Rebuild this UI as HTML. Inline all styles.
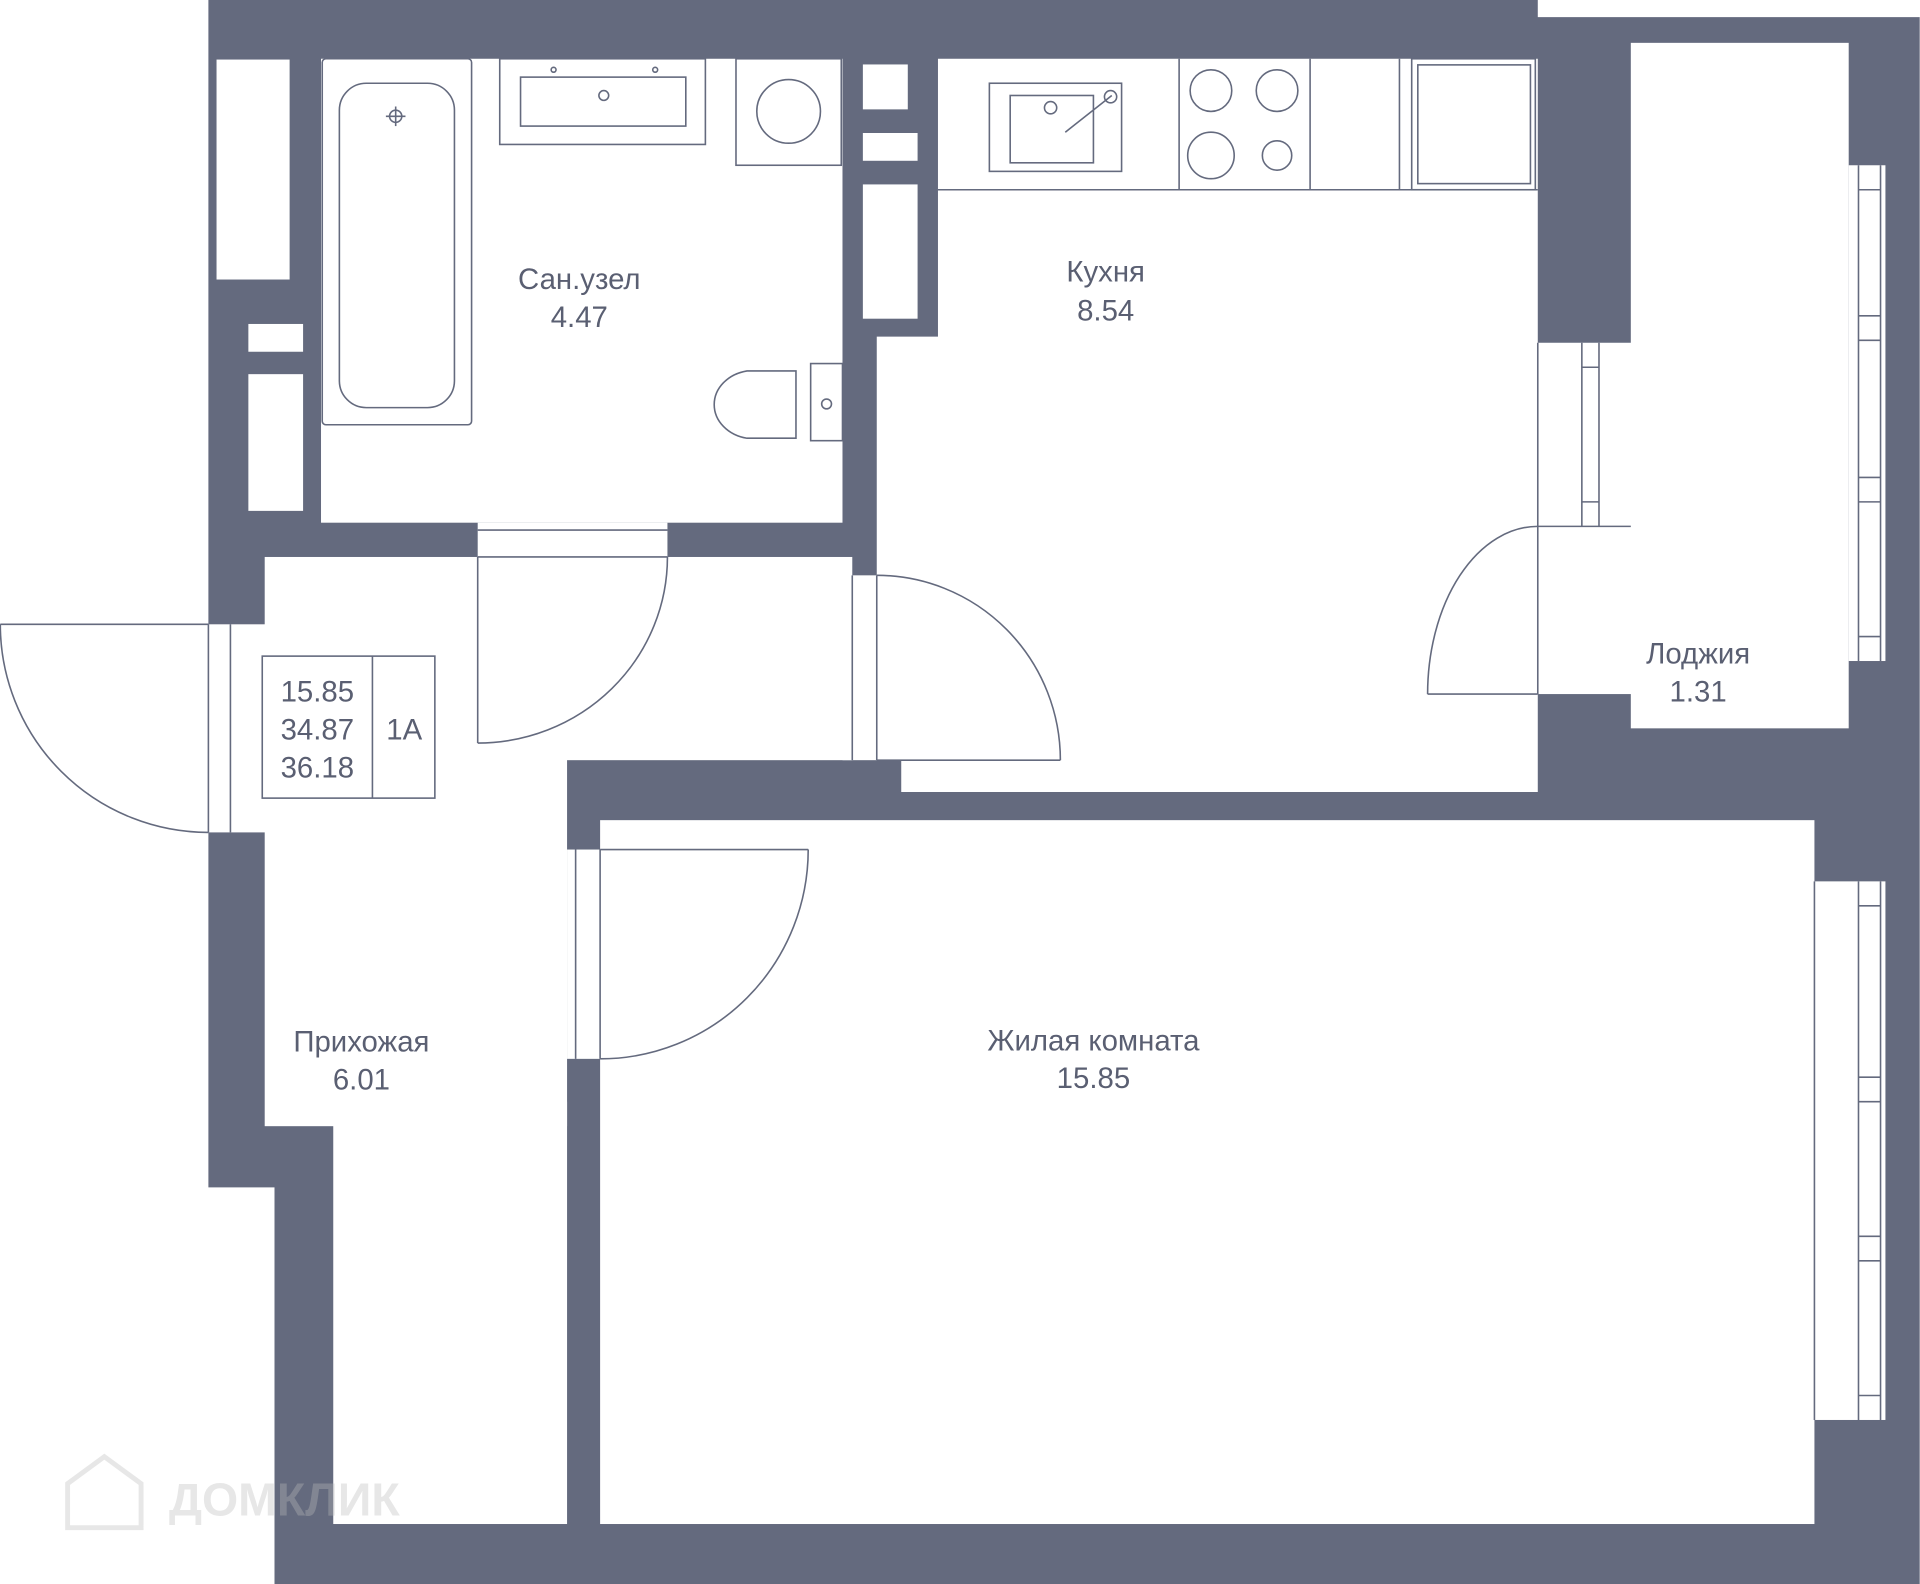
<!DOCTYPE html>
<html><head><meta charset="utf-8"><style>
html,body{margin:0;padding:0;background:#fff;}
svg{display:block}
text{font-family:"Liberation Sans","DejaVu Sans",sans-serif;fill:#5a5f72;font-size:24px;text-anchor:middle}
</style></head><body>
<svg width="1920" height="1584" viewBox="0 0 1568 1294" xmlns="http://www.w3.org/2000/svg">
<rect width="1568" height="1294" fill="#fff"/>
<g fill="#646a7e">
<polygon points="170,0 1256,0 1256,14 1568,14 1568,1294 224,1294 224,970 170,970"/>
</g>
<g fill="#fff" stroke="none">
<rect x="262" y="48" width="426" height="379"/>
<rect x="766" y="48" width="490" height="599"/>
<rect x="716" y="275" width="60" height="346"/>
<rect x="736" y="580" width="40" height="67"/>
<rect x="216" y="455" width="480" height="166"/>
<rect x="216" y="615" width="247" height="305"/>
<rect x="272" y="900" width="191" height="345"/>
<rect x="170" y="510" width="50" height="170"/>
<rect x="390" y="427" width="155" height="30"/>
<rect x="688" y="470" width="30" height="151"/>
<rect x="490" y="670" width="992" height="575"/>
<rect x="463" y="694" width="30" height="171"/>
<rect x="1332" y="35" width="178" height="560"/>
<rect x="1254" y="280" width="80" height="287"/>
<rect x="1510" y="135" width="30" height="405"/>
<rect x="1482" y="720" width="58" height="440"/>
</g>
<g fill="none" stroke="#646a7e" stroke-width="1.3">
<rect x="176" y="48" width="61" height="181" fill="#fff"/>
<rect x="202" y="264" width="46" height="24" fill="#fff"/>
<rect x="202" y="305" width="46" height="113" fill="#fff"/>
<rect x="704" y="52" width="38" height="38" fill="#fff"/>
<rect x="704" y="108" width="46" height="24" fill="#fff"/>
<rect x="704" y="150" width="46" height="111" fill="#fff"/>
<rect x="263" y="48" width="122" height="299" rx="3"/>
<rect x="277" y="68" width="94" height="265" rx="22"/>
<circle cx="323" cy="95" r="5"/><line x1="315" y1="95" x2="331" y2="95"/><line x1="323" y1="87" x2="323" y2="103"/>
<rect x="408" y="48" width="168" height="70"/>
<rect x="425" y="63" width="135" height="40"/>
<circle cx="493" cy="78" r="4"/><circle cx="452" cy="57" r="2"/><circle cx="535" cy="57" r="2"/>
<rect x="601" y="48" width="86" height="87"/>
<circle cx="644" cy="91" r="26"/>
<rect x="662" y="297" width="26" height="63"/>
<path d="M650,303 L610,303 A33,28 0 0 0 610,358 L650,358 Z"/>
<circle cx="675" cy="330" r="4"/>
<line x1="766" y1="155" x2="1256" y2="155"/>
<rect x="808" y="68" width="108" height="72"/>
<rect x="825" y="78" width="68" height="55"/>
<circle cx="858" cy="88" r="5"/>
<line x1="870" y1="108" x2="908" y2="78"/>
<circle cx="907" cy="79" r="5"/>
<line x1="963" y1="48" x2="963" y2="155"/><line x1="1070" y1="48" x2="1070" y2="155"/>
<line x1="1143" y1="48" x2="1143" y2="155"/>
<circle cx="989" cy="74" r="17"/><circle cx="1043" cy="74" r="17"/>
<circle cx="989" cy="127" r="19"/><circle cx="1043" cy="127" r="12"/>
<rect x="1153" y="48" width="101" height="107"/>
<rect x="1158" y="53" width="92" height="97"/>
<line x1="390" y1="455" x2="390" y2="607"/>
<path d="M390,607 A155,152 0 0 0 545,455"/>
<line x1="390" y1="433" x2="545" y2="433"/><line x1="390" y1="455" x2="545" y2="455"/>
<line x1="716" y1="621" x2="866" y2="621"/>
<path d="M866,621 A150,151 0 0 0 716,470"/>
<line x1="696" y1="470" x2="696" y2="621"/><line x1="716" y1="470" x2="716" y2="621"/>
<line x1="0" y1="510" x2="170" y2="510"/>
<path d="M0,510 A170,170 0 0 0 170,680"/>
<line x1="170" y1="510" x2="170" y2="680"/><line x1="188" y1="510" x2="188" y2="680"/>
<line x1="490" y1="694" x2="660" y2="694"/>
<path d="M660,694 A170,171 0 0 1 490,865"/>
<line x1="470" y1="694" x2="470" y2="865"/><line x1="490" y1="694" x2="490" y2="865"/>
<line x1="1166" y1="567" x2="1256" y2="567"/>
<path d="M1166,567 A90,137 0 0 1 1256,430"/>
<line x1="1256" y1="280" x2="1256" y2="567"/>
<line x1="1256" y1="430" x2="1332" y2="430"/>
<line x1="1292" y1="280" x2="1292" y2="430"/><line x1="1306" y1="280" x2="1306" y2="430"/>
<line x1="1292" y1="300" x2="1306" y2="300"/><line x1="1292" y1="410" x2="1306" y2="410"/>
<line x1="1518" y1="135" x2="1518" y2="540"/><line x1="1536" y1="135" x2="1536" y2="540"/>
<line x1="1518" y1="155" x2="1536" y2="155"/><line x1="1518" y1="258" x2="1536" y2="258"/>
<line x1="1518" y1="278" x2="1536" y2="278"/><line x1="1518" y1="390" x2="1536" y2="390"/>
<line x1="1518" y1="410" x2="1536" y2="410"/><line x1="1518" y1="520" x2="1536" y2="520"/>
<line x1="1482" y1="720" x2="1482" y2="1160"/>
<line x1="1518" y1="720" x2="1518" y2="1160"/><line x1="1536" y1="720" x2="1536" y2="1160"/>
<line x1="1518" y1="740" x2="1536" y2="740"/><line x1="1518" y1="880" x2="1536" y2="880"/>
<line x1="1518" y1="900" x2="1536" y2="900"/><line x1="1518" y1="1010" x2="1536" y2="1010"/>
<line x1="1518" y1="1030" x2="1536" y2="1030"/><line x1="1518" y1="1140" x2="1536" y2="1140"/>
<rect x="214" y="536" width="141" height="116"/>
<line x1="304" y1="536" x2="304" y2="652"/>
</g>
<text x="473" y="236">Сан.узел</text><text x="473" y="267">4.47</text>
<text x="903" y="230">Кухня</text><text x="903" y="262">8.54</text>
<text x="1387" y="542">Лоджия</text><text x="1387" y="573">1.31</text>
<text x="295" y="859">Прихожая</text><text x="295" y="890">6.01</text>
<text x="893" y="858">Жилая комната</text><text x="893" y="889">15.85</text>
<text x="259" y="573">15.85</text><text x="259" y="604">34.87</text><text x="259" y="635">36.18</text>
<text x="330" y="604">1А</text>
<g opacity="0.35">
<path d="M55,1248 L55,1212 L85,1190 L115,1212 L115,1248 Z" fill="none" stroke="#bbb" stroke-width="4"/>
<text x="232" y="1238" style="fill:#bbb;font-size:38px;font-weight:bold">ДОМКЛИК</text>
</g>
</svg>
</body></html>
